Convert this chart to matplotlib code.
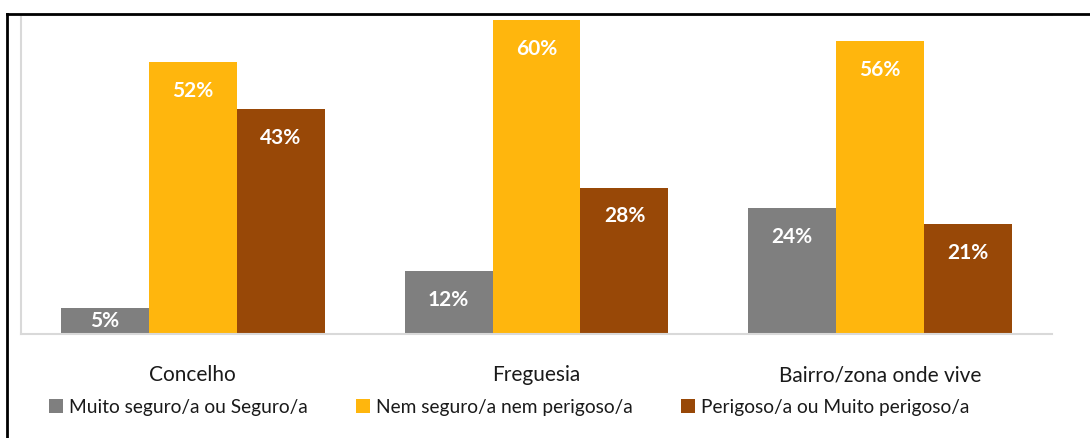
import matplotlib
matplotlib.use("Agg")
import matplotlib.pyplot as plt
import numpy as np
from matplotlib.lines import Line2D

categories = ["Concelho", "Freguesia", "Bairro/zona onde vive"]
series_names = ["Muito seguro/a ou Seguro/a", "Nem seguro/a nem perigoso/a", "Perigoso/a ou Muito perigoso/a"]
seguro = [5, 12, 24]
nem = [52, 60, 56]
perigoso = [43, 28, 21]
colors = ["#7F7F7F", "#FFB60D", "#984807"]

plt.rcParams['font.family'] = ['Lato', 'DejaVu Sans']

fig = plt.figure(figsize=(10.9, 4.38), dpi=100)
ax = fig.add_axes([21/1090, 1-334/438, (1052-21)/1090, (334-15)/438])

x = np.arange(len(categories))
w = 0.256
for i, (vals, col, name) in enumerate(zip([seguro, nem, perigoso], colors, series_names)):
    ax.bar(x + (i-1)*w, vals, w, color=col, label=name, edgecolor='none')
    for xi, v in zip(x + (i-1)*w, vals):
        y = max(v - 5.5, v/2)
        ax.text(xi, y, f"{v}%", ha='center', va='center', color='white',
                fontsize=15, fontweight='bold')

ax.set_xlim(-0.5, 2.5)
ax.set_ylim(0, 61)
ax.set_yticks([])
ax.set_xticks([])
ax.spines['right'].set_visible(False)
for s in ['left', 'top', 'bottom']:
    ax.spines[s].set_color('#D9D9D9')
    ax.spines[s].set_linewidth(1.5)

for xi, c in zip(x, categories):
    ax.text(xi, -0.13, c, transform=ax.get_xaxis_transform(), ha='center', va='center',
            fontsize=15, color='#1a1a1a')

leg = fig.legend(loc='center', bbox_to_anchor=(0.467, 1-407/438), ncol=3, frameon=False,
                 fontsize=13.8, handlelength=0.75, handleheight=0.75, handletextpad=0.3,
                 columnspacing=2.5, labelcolor='#1a1a1a')

# outer black frame
fig.add_artist(Line2D([7/1090, 7/1090], [0, 1-14/438], color='black', lw=2, transform=fig.transFigure))
fig.add_artist(Line2D([7/1090, 1], [1-14/438, 1-14/438], color='black', lw=2, transform=fig.transFigure))

fig.savefig("out.png", dpi=100)
